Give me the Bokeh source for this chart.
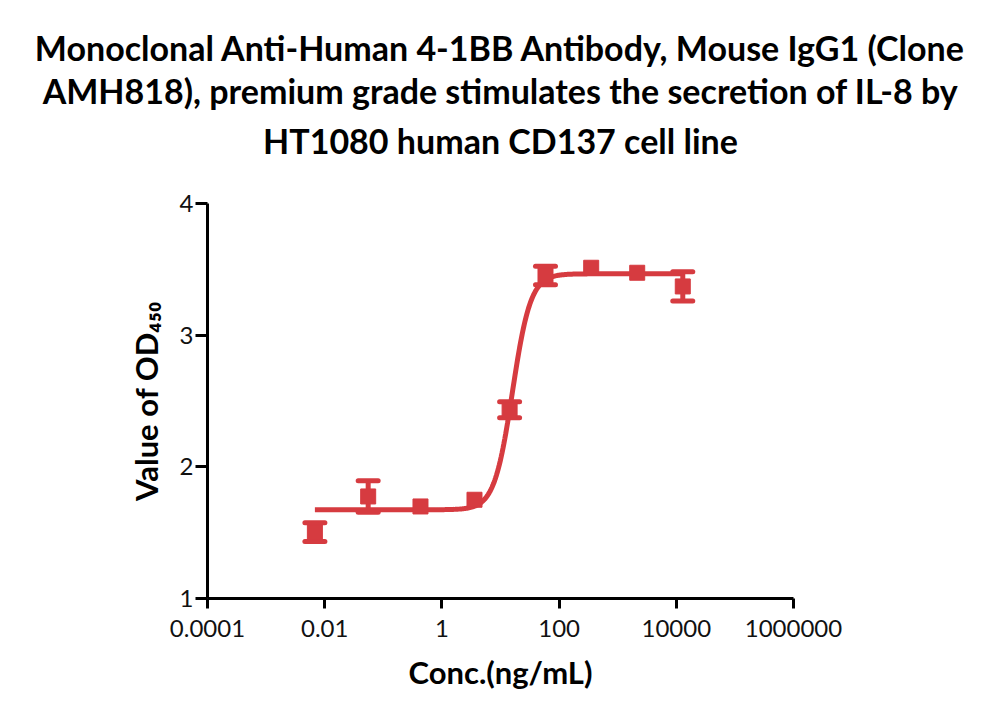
import numpy as np
from bokeh.plotting import figure
from bokeh.models import Range1d, FixedTicker, Title, ColumnDataSource
from bokeh.embed import file_html
from bokeh.resources import INLINE

# ---- data ----
title_lines = [
    "Monoclonal Anti-Human 4-1BB Antibody, Mouse IgG1 (Clone",
    "AMH818), premium grade stimulates the secretion of IL-8 by",
    "HT1080 human CD137 cell line",
]
conc = [0.0068, 0.0552, 0.431, 3.6, 14.3, 58.6, 353, 2153, 12900]      # ng/mL
od450 = [1.504, 1.775, 1.699, 1.750, 2.433, 3.453, 3.512, 3.474, 3.370]
od_err = [0.072, 0.120, 0.0, 0.0, 0.061, 0.071, 0.0, 0.0, 0.111]

# 4-parameter logistic fit
fit_bottom = 1.674
fit_top = 3.466
fit_ec50 = 16.0
fit_hill = 2.8

x_ticks = [-4, -2, 0, 2, 4, 6]
x_tick_labels = ["0.0001", "0.01", "1", "100", "10000", "1000000"]
y_ticks = [1, 2, 3, 4]
x_label = "Conc.(ng/mL)"
y_label = "Value of OD\u2084\u2085\u2080"

RED = "#D63B40"
FONT = "Lato"

# ---- derived ----
lx = np.log10(np.array(conc))
y = np.array(od450)
e = np.array(od_err)

curve_lx = np.linspace(lx.min(), lx.max(), 400)
curve_x = 10 ** curve_lx
curve_y = fit_bottom + (fit_top - fit_bottom) / (1 + (fit_ec50 / curve_x) ** fit_hill)

p = figure(width=984, height=704, output_backend="svg", toolbar_location=None,
           x_range=Range1d(-4, 6), y_range=Range1d(1, 4),
           min_border_left=207, min_border_right=191, min_border_top=203,
           min_border_bottom=106, title=None)
p.outline_line_color = None
p.xgrid.visible = False
p.ygrid.visible = False
p.background_fill_color = "white"
p.border_fill_color = "white"

# empty spacer between plot and title block (first added sits nearest to the plot)
p.add_layout(Title(text=" ", text_font_size="1px", standoff=33), "above")
for text, standoff in zip(reversed(title_lines), [14, 0, 0]):
    p.add_layout(Title(text=text, align="center", text_font=FONT, text_font_style="bold",
                       text_font_size="34px", text_color="black", standoff=standoff), "above")

for ax in (p.xaxis[0], p.yaxis[0]):
    ax.axis_line_width = 3
    ax.axis_line_color = "black"
    ax.major_tick_line_width = 3
    ax.major_tick_line_color = "black"
    ax.major_tick_in = 0
    ax.minor_tick_line_color = None
    ax.major_label_text_font = FONT
    ax.major_label_text_font_size = "24px"
    ax.major_label_text_color = "#111111"
    ax.axis_label_text_font = FONT
    ax.axis_label_text_font_style = "bold"
    ax.axis_label_text_color = "black"

p.xaxis[0].ticker = FixedTicker(ticks=x_ticks)
p.xaxis[0].major_label_overrides = {t: s for t, s in zip(x_ticks, x_tick_labels)}
p.xaxis[0].major_tick_out = 10
p.xaxis[0].major_label_standoff = 11
p.xaxis[0].axis_label = x_label
p.xaxis[0].axis_label_text_font_size = "31px"
p.xaxis[0].axis_label_standoff = 13

p.yaxis[0].ticker = FixedTicker(ticks=y_ticks)
p.yaxis[0].major_tick_out = 12
p.yaxis[0].major_label_standoff = 2
p.yaxis[0].axis_label = y_label
p.yaxis[0].axis_label_text_font_size = "31px"
p.yaxis[0].axis_label_standoff = 12

# fitted curve
p.line(curve_lx, curve_y, line_color=RED, line_width=5)

# error bars (only where they extend beyond the marker)
has_err = e > 0.03
src_e = ColumnDataSource(dict(x=lx[has_err], lo=(y - e)[has_err], hi=(y + e)[has_err]))
p.segment(x0="x", y0="lo", x1="x", y1="hi", source=src_e, line_color=RED, line_width=5)
p.scatter(x="x", y="hi", source=src_e, marker="dash", size=20, line_color=RED,
          line_width=5, line_cap="round")
p.scatter(x="x", y="lo", source=src_e, marker="dash", size=20, line_color=RED,
          line_width=5, line_cap="round")
# markers
src = ColumnDataSource(dict(x=lx, y=y))
p.scatter(x="x", y="y", source=src, marker="square", size=15, fill_color=RED,
          line_color=RED, line_width=1)

open("out.html", "w").write(file_html(p, INLINE))
